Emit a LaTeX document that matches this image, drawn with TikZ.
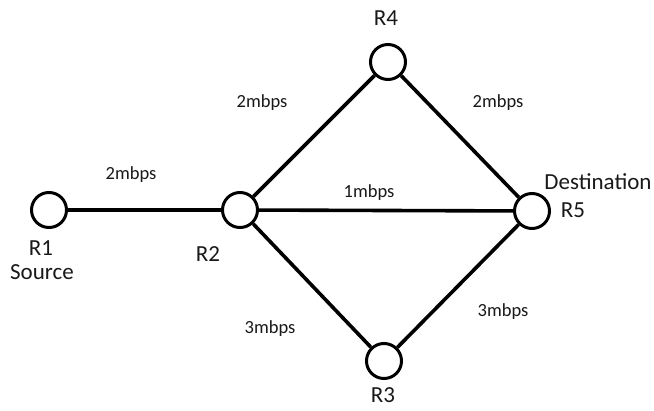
\documentclass[tikz,border=0pt]{standalone}
\usepackage{fontspec}
\setmainfont{Carlito}
\begin{document}
\begin{tikzpicture}[x=1pt,y=-1pt,
  router/.style={circle,draw=black,line width=3pt,minimum size=35pt,inner sep=0pt,fill=white},
  link/.style={line width=3.6pt,draw=black},
  rate/.style={font=\fontsize{18.5}{20}\selectfont,text=black!90,inner sep=0pt},
  tag/.style={font=\fontsize{23}{24}\selectfont,text=black!90,inner sep=0pt,align=center}]
\path[use as bounding box,fill=white] (0,0) rectangle (654,411);
% routers
\node[router] (r1) at (49,210) {};
\node[router] (r2) at (240,210) {};
\node[router] (r4) at (388,62) {};
\node[router] (r5) at (532,211) {};
\node[router] (r3) at (384,361) {};
% links
\draw[link] (r1) -- (r2);
\draw[link] (r2) -- (r4);
\draw[link] (r2) -- (r5);
\draw[link] (r2) -- (r3);
\draw[link] (r4) -- (r5);
\draw[link] (r3) -- (r5);
% link rates
\node[rate] (l12) at (131,175) {2mbps};
\node[rate] (l24) at (262,103) {2mbps};
\node[rate] (l45) at (498,103) {2mbps};
\node[rate] (l25) at (369,193) {1mbps};
\node[rate] (l23) at (270,329) {3mbps};
\node[rate] (l35) at (503,312) {3mbps};
% router names
\node[tag] (t1a) at (41,248) {R1};
\node[tag] (t1b) at (42,272) {Source};
\node[tag] (t2) at (208,254) {R2};
\node[tag] (t4) at (386,18) {R4};
\node[tag] (t5a) at (598,182) {Destination};
\node[tag] (t5b) at (573,210) {R5};
\node[tag] (t3) at (383,395) {R3};
\end{tikzpicture}
\end{document}
